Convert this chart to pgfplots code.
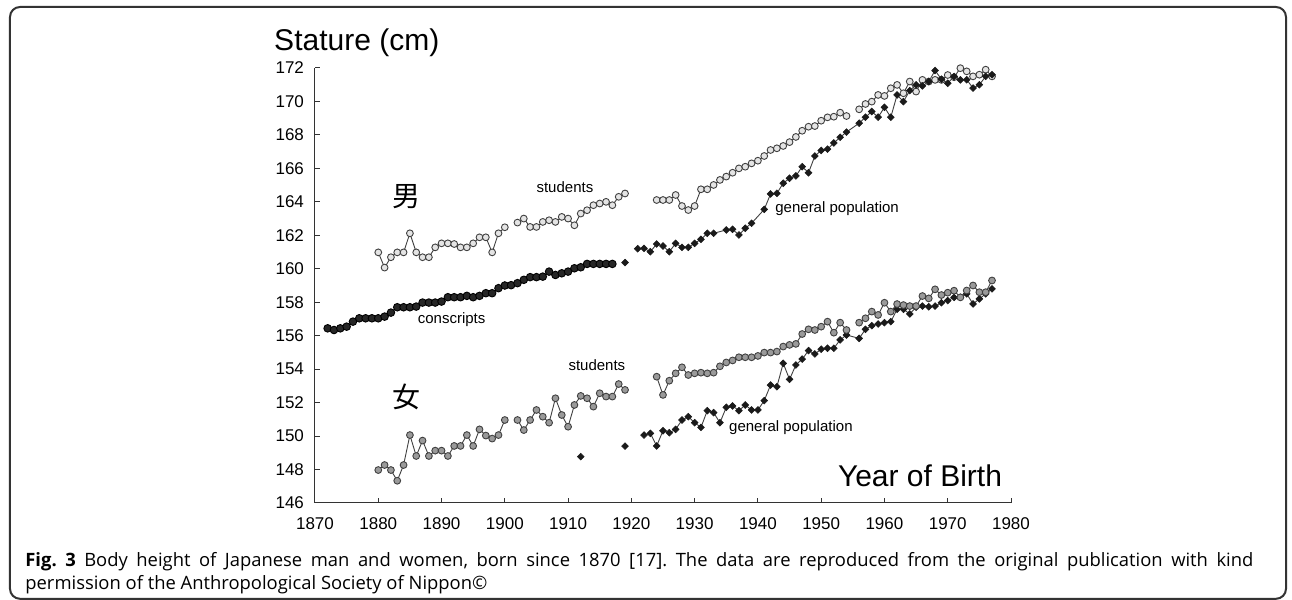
\documentclass[border=0pt]{standalone}
\usepackage{fontspec}
\setmainfont{Liberation Sans}
\newfontfamily\capfont{Open Sans}
\newfontfamily\cjk{Noto Sans CJK JP}
\usepackage{pgfplots}
\pgfplotsset{compat=1.18}
\frenchspacing
\definecolor{studM}{HTML}{E4E4E4}
\definecolor{studF}{HTML}{9A9A9A}
\definecolor{cons}{HTML}{262626}
\definecolor{dia}{HTML}{1A1A1A}
\definecolor{ln}{HTML}{404040}
\pgfplotsset{
  studm/.style={draw=ln, line width=0.45pt, mark=*, mark size=1.7pt, mark options={fill=studM, draw=ln, line width=0.45pt}},
  studf/.style={draw=ln, line width=0.45pt, mark=*, mark size=1.7pt, mark options={fill=studF, draw=ln, line width=0.45pt}},
  consc/.style={draw=black, line width=0.45pt, mark=*, mark size=1.9pt, mark options={fill=cons, draw=black, line width=0.45pt}},
  genp/.style={draw=ln, line width=0.45pt, mark=square*, mark size=1.2pt, mark options={rotate=45, fill=dia, draw=dia, line width=0.3pt}},
}
\begin{document}
\begin{tikzpicture}[x=1pt,y=1pt]
\useasboundingbox (-157.5,-48.5) rectangle (488.5,251.5);
\draw[line width=1pt, color=black!80, rounded corners=5pt] (-152.5,-47.9) rectangle (485.5,248);
\node[anchor=base west, inner sep=0pt, font=\capfont\fontsize{9.2}{11}\selectfont] at (-145,-32) {\frenchspacing\makebox[614pt][s]{\textbf{Fig. 3} Body height of Japanese man and women, born since 1870 [17]. The data are reproduced from the original publication with kind}};
\node[anchor=base west, inner sep=0pt, font=\capfont\fontsize{9.2}{11}\selectfont] at (-145,-43.5) {\frenchspacing permission of the Anthropological Society of Nippon©};
\begin{axis}[
  at={(0,0)}, anchor=south west, scale only axis,
  width=348pt, height=217.5pt,
  xmin=1870, xmax=1980, ymin=146, ymax=172,
  axis lines=left, axis line style={-, line width=0.5pt, color=black!80},
  xtick={1870,1880,...,1980}, ytick={146,148,...,172},
  tick align=inside, major tick length=2.5pt,
  tick style={line width=0.5pt, color=black!80},
  /pgf/number format/assume math mode=true,
  /pgf/number format/1000 sep={},
  ticklabel style={font=\fontsize{8.5}{10}\selectfont},
  xticklabel style={yshift=-3.7pt},
  yticklabel style={xshift=-2pt},
  clip=false,
]
% conscripts
\addplot[consc] coordinates {
(1872,156.44)(1873,156.34)(1874,156.44)(1875,156.54)(1876,156.84)(1877,157.04)(1878,157.04)(1879,157.04)(1880,157.04)
(1881,157.14)(1882,157.38)(1883,157.70)(1884,157.70)(1885,157.70)(1886,157.74)(1887,157.98)(1888,157.98)(1889,157.98)
(1890,158.04)(1891,158.30)(1892,158.30)(1893,158.30)(1894,158.38)(1895,158.30)(1896,158.38)(1897,158.54)(1898,158.54)
(1899,158.84)(1900,159.00)(1901,159.02)(1902,159.14)(1903,159.34)(1904,159.50)(1905,159.50)(1906,159.53)(1907,159.83)
(1908,159.63)(1909,159.73)(1910,159.83)(1911,160.03)(1912,160.09)(1913,160.29)(1914,160.29)(1915,160.29)(1916,160.29)(1917,160.29)};
% male students
\addplot[studm] coordinates {
(1880,160.98)(1881,160.07)(1882,160.69)(1883,160.98)(1884,160.98)(1885,162.12)(1886,160.98)(1887,160.69)(1888,160.69)
(1889,161.28)(1890,161.52)(1891,161.52)(1892,161.48)(1893,161.28)(1894,161.28)(1895,161.52)(1896,161.88)(1897,161.88)
(1898,160.98)(1899,162.12)(1900,162.48)};
\addplot[studm] coordinates {
(1902,162.76)(1903,163.0)(1904,162.5)(1905,162.5)(1906,162.8)(1907,162.9)(1908,162.8)(1909,163.1)(1910,163.0)
(1911,162.6)(1912,163.3)(1913,163.5)(1914,163.8)(1915,163.9)(1916,164.0)(1917,163.8)(1918,164.3)(1919,164.5)};
\addplot[studm] coordinates {
(1924,164.11)(1925,164.11)(1926,164.11)(1927,164.41)(1928,163.75)(1929,163.51)(1930,163.75)(1931,164.75)(1932,164.75)
(1933,165.01)(1934,165.31)(1935,165.51)(1936,165.74)(1937,166.0)(1938,166.1)(1939,166.3)(1940,166.46)(1941,166.74)
(1942,167.1)(1943,167.2)(1944,167.34)(1945,167.57)(1946,167.88)(1947,168.25)(1948,168.49)(1949,168.53)(1950,168.85)
(1951,169.05)(1952,169.09)(1953,169.33)(1954,169.13)};
\addplot[studm] coordinates {
(1956,169.53)(1957,169.85)(1958,169.99)(1959,170.39)(1960,170.33)(1961,170.79)(1962,170.99)(1963,170.49)(1964,171.19)
(1965,170.59)(1966,171.29)(1967,171.19)(1968,171.29)(1969,171.29)(1970,171.58)(1971,171.45)(1972,171.99)(1973,171.8)
(1974,171.5)(1975,171.6)(1976,171.9)(1977,171.5)};
% male general population
\addplot[genp, only marks] coordinates {(1919,160.37)};
\addplot[genp] coordinates {
(1921,161.2)(1922,161.22)(1923,161.02)(1924,161.48)(1925,161.36)(1926,161.02)(1927,161.52)(1928,161.28)(1929,161.28)
(1930,161.52)(1931,161.76)(1932,162.12)(1933,162.12)(1935,162.32)(1936,162.36)(1937,162.02)(1938,162.42)(1939,162.72)
(1941,163.55)(1942,164.47)(1943,164.51)(1944,165.11)(1945,165.41)(1946,165.55)(1947,166.10)(1948,165.74)(1949,166.74)
(1950,167.07)(1951,167.15)(1952,167.52)(1953,167.86)(1954,168.17)(1956,168.70)(1957,169.06)(1958,169.40)(1959,169.06)
(1960,169.65)(1961,169.06)(1962,170.39)(1963,169.99)(1964,170.65)(1965,170.99)(1966,170.93)(1967,171.19)(1968,171.85)
(1969,171.33)(1970,171.09)(1971,171.49)(1972,171.29)(1973,171.3)(1974,170.8)(1975,171.0)(1976,171.5)(1977,171.6)};
% female general population
\addplot[genp, only marks] coordinates {(1912,148.77)(1919,149.4)};
\addplot[genp] coordinates {
(1922,150.06)(1923,150.16)(1924,149.41)(1925,150.32)(1926,150.20)(1927,150.40)(1928,150.96)(1929,151.16)(1930,150.80)
(1931,150.52)(1932,151.52)(1933,151.40)(1934,150.80)(1935,151.72)(1936,151.80)(1937,151.52)(1938,151.86)(1939,151.56)
(1940,151.56)(1941,152.12)(1942,153.05)(1943,152.95)(1944,154.35)(1945,153.39)(1946,154.25)(1947,154.60)(1948,155.11)
(1949,154.91)(1950,155.19)(1951,155.25)(1952,155.25)(1953,155.75)(1954,156.04)(1956,155.84)(1957,156.38)(1958,156.6)
(1959,156.70)(1960,156.78)(1961,156.84)(1962,157.58)(1963,157.58)(1964,157.30)(1965,157.7)(1966,157.77)(1967,157.73)
(1968,157.77)(1969,157.97)(1970,158.1)(1971,158.29)(1972,158.3)(1973,158.5)(1974,157.9)(1975,158.2)(1976,158.5)(1977,158.8)};
% female students
\addplot[studf] coordinates {
(1880,147.97)(1881,148.27)(1882,147.97)(1883,147.33)(1884,148.27)(1885,150.06)(1886,148.81)(1887,149.73)(1888,148.81)
(1889,149.13)(1890,149.13)(1891,148.81)(1892,149.41)(1893,149.41)(1894,150.06)(1895,149.41)(1896,150.40)(1897,150.03)
(1898,149.85)(1899,150.06)(1900,150.96)};
\addplot[studf] coordinates {
(1902,150.96)(1903,150.36)(1904,150.96)(1905,151.56)(1906,151.16)(1907,150.80)(1908,152.26)(1909,151.26)(1910,150.56)
(1911,151.86)(1912,152.40)(1913,152.26)(1914,151.76)(1915,152.56)(1916,152.36)(1917,152.36)(1918,153.11)(1919,152.76)};
\addplot[studf] coordinates {
(1924,153.55)(1925,152.46)(1926,153.31)(1927,153.75)(1928,154.11)(1929,153.65)(1930,153.75)(1931,153.79)(1932,153.75)
(1933,153.79)(1934,154.17)(1935,154.40)(1936,154.52)(1937,154.71)(1938,154.71)(1939,154.71)(1940,154.79)(1941,154.99)
(1942,154.99)(1943,155.05)(1944,155.35)(1945,155.45)(1946,155.51)(1947,156.10)(1948,156.38)(1949,156.34)(1950,156.54)
(1951,156.84)(1952,156.18)(1953,156.78)(1954,156.34)};
\addplot[studf] coordinates {
(1956,156.78)(1957,157.04)(1958,157.44)(1959,157.24)(1960,157.97)(1961,157.44)(1962,157.89)(1963,157.83)(1964,157.77)
(1965,157.77)(1966,158.37)(1967,158.23)(1968,158.77)(1969,158.43)(1970,158.57)(1971,158.69)(1972,158.29)(1973,158.7)
(1974,159.0)(1975,158.6)(1976,158.6)(1977,159.3)};
% labels
\node[font=\fontsize{7.5}{9}\selectfont] at (axis cs:1891.6,156.94) {conscripts};
\node[font=\fontsize{7.5}{9}\selectfont] at (axis cs:1914.55,154.25) {students};
\node[font=\fontsize{7.5}{9}\selectfont] at (axis cs:1909.5,164.9) {students};
\node[anchor=west, inner sep=0pt, font=\fontsize{7.5}{9}\selectfont] at (axis cs:1942.7,163.57) {general population};
\node[anchor=west, inner sep=0pt, font=\fontsize{7.5}{9}\selectfont] at (axis cs:1935.4,150.48) {general population};
\node[font=\fontsize{15}{18}\selectfont] at (axis cs:1876.6,173.5) {Stature (cm)};
\node[anchor=west, inner sep=0pt, font=\fontsize{15}{18}\selectfont] at (axis cs:1952.6,147.61) {Year of Birth};
\node[font=\cjk\fontsize{14}{16}\selectfont] at (axis cs:1884.5,152.34) {女};
\node[font=\cjk\fontsize{14}{16}\selectfont] at (axis cs:1884.5,164.3) {男};
\end{axis}
\end{tikzpicture}
\end{document}
